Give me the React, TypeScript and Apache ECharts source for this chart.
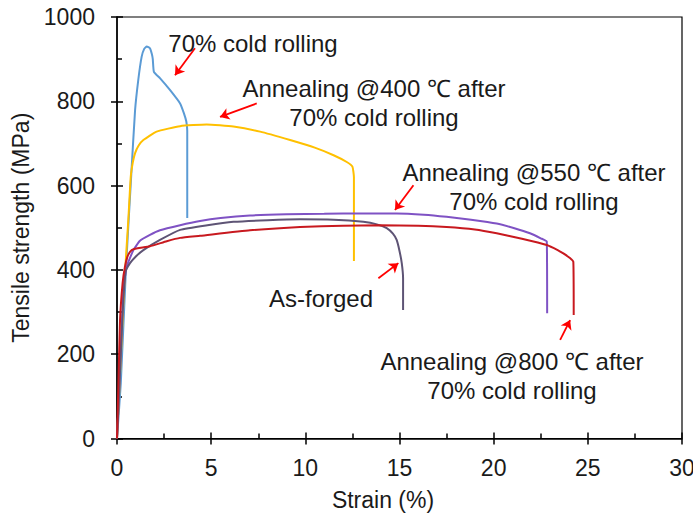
import React, { useEffect, useRef } from "react";
import * as echarts from "echarts";

// Strain (%) , Tensile strength (MPa)
const coldRolled70: number[][] = [
  [0, 0], [0.2, 130], [0.48, 407], [0.75, 620], [0.96, 779], [1.13, 851], [1.31, 906], [1.45, 925],
  [1.58, 930], [1.75, 926], [1.85, 912], [1.9, 900], [1.96, 870], [2.28, 855], [2.81, 827],
  [3.35, 795], [3.55, 772], [3.68, 752], [3.73, 730], [3.73, 523],
];
const annealed400: number[][] = [
  [0, 0], [0.15, 140], [0.37, 352], [0.6, 518], [0.73, 621], [0.84, 655], [0.96, 677], [1.15, 695],
  [1.4, 708], [2.1, 728], [3.35, 741], [4.76, 745], [6.18, 740], [7.6, 728], [9.19, 708],
  [10.5, 690], [11.5, 672], [12.2, 656], [12.5, 645], [12.58, 620], [12.58, 421],
];
const annealed550: number[][] = [
  [0, 0], [0.15, 150], [0.34, 352], [0.51, 407], [0.87, 447], [1.22, 469], [1.75, 483],
  [2.28, 494], [3.35, 506], [4.41, 516], [5.5, 523], [7.06, 529], [9.0, 532], [11, 533], [13, 534],
  [14.85, 534], [16.3, 531], [17.5, 526], [18.8, 519], [20.16, 510], [21.1, 499], [21.93, 487],
  [22.5, 475], [22.82, 467], [22.84, 297],
];
const asForged: number[][] = [
  [0, 0], [0.15, 150], [0.3, 300], [0.45, 395], [0.69, 416], [1.0, 432], [1.4, 447], [2.28, 471],
  [3.35, 495], [4.8, 506], [6.18, 514], [8, 518], [9.72, 520], [11.5, 519], [13.08, 514],
  [13.8, 508], [14.32, 499], [14.65, 486], [14.85, 471], [15.0, 445], [15.12, 416], [15.19, 380],
  [15.19, 305],
];
const annealed800: number[][] = [
  [0, 0], [0.07, 120], [0.16, 280], [0.3, 370], [0.42, 407], [0.55, 431], [0.69, 443], [0.87, 449],
  [1.75, 456], [2.64, 468], [3.35, 476], [4.41, 481], [7.06, 494], [9.72, 502], [12, 505], [13.97, 506],
  [16, 505], [17.5, 502], [19, 496], [20.16, 487], [21.5, 474], [22.82, 459], [23.4, 447],
  [23.7, 439], [24.05, 428], [24.23, 419], [24.25, 293],
];

// annotation arrows: [tail, head] in data coordinates
const arrows: number[][][] = [
  [[4.14, 926], [3.08, 862]],
  [[7.42, 795], [5.47, 763]],
  [[15.74, 601], [14.76, 542]],
  [[13.88, 380], [14.94, 416]],
  [[23.53, 234], [24.06, 281]],
];

const labels = [
  "70% cold rolling",
  "Annealing @400 \u2103 after\n70% cold rolling",
  "Annealing @550 \u2103 after\n70% cold rolling",
  "As-forged",
  "Annealing @800 \u2103 after\n70% cold rolling",
];

const FONT = "'Liberation Sans', Arial, sans-serif";
const TXT = "#1a1a1a";

export default function App() {
  const ref = useRef<HTMLDivElement>(null);
  useEffect(() => {
    document.body.style.margin = "0";
    const chart = echarts.init(ref.current!, null, { renderer: "svg" });
    const lineSeries = (name: string, data: number[][], color: string) => ({
      name,
      type: "line",
      data,
      showSymbol: false,
      symbol: "none",
      smooth: 0.15,
      lineStyle: { color, width: 2 },
      xAxisIndex: 0,
      yAxisIndex: 0,
    });
    const textPos = [
      [253, 43],
      [374, 103],
      [534, 187],
      [321, 298],
      [512, 376],
    ];
    chart.setOption({
      animation: false,
      backgroundColor: "#ffffff",
      grid: {
        left: 117,
        right: 11,
        top: 17,
        bottom: 80.5,
        outerBoundsMode: "none",
        containLabel: false,
        show: true,
        borderColor: "#000",
        borderWidth: 1.2,
        backgroundColor: "transparent",
      },
      xAxis: [
        {
          type: "value",
          min: 0,
          max: 30,
          interval: 5,
          position: "bottom",
          name: "Strain (%)",
          nameLocation: "middle",
          nameGap: 50,
          nameTextStyle: { fontFamily: FONT, fontSize: 23, color: TXT, padding: [0, 33, 0, 0] },
          axisLine: { show: true, onZero: false, lineStyle: { color: "#000", width: 1.5 } },
          axisTick: { show: true, inside: false, length: 6, lineStyle: { color: "#000", width: 1.5 } },
          axisLabel: { fontFamily: FONT, fontSize: 23, color: TXT, margin: 18, formatter: (v: number) => String(v) },
          splitLine: { show: false },
        },
        {
          type: "value",
          min: 0,
          max: 30,
          interval: 5,
          position: "bottom",
          axisLine: { show: false },
          axisTick: { show: true, inside: true, length: 6, lineStyle: { color: "#000", width: 1.5 } },
          minorTick: { show: true, splitNumber: 2, length: 5, lineStyle: { color: "#000", width: 1.5 } },
          axisLabel: { show: false },
          splitLine: { show: false },
        },
      ],
      yAxis: [
        {
          type: "value",
          min: 0,
          max: 1000,
          interval: 200,
          position: "left",
          name: "Tensile strength (MPa)",
          nameLocation: "middle",
          nameGap: 75,
          nameTextStyle: { fontFamily: FONT, fontSize: 23, color: TXT },
          axisLine: { show: true, onZero: false, lineStyle: { color: "#000", width: 1.5 } },
          axisTick: { show: true, inside: false, length: 6, lineStyle: { color: "#000", width: 1.5 } },
          axisLabel: { fontFamily: FONT, fontSize: 23, color: TXT, margin: 22, formatter: (v: number) => String(v) },
          splitLine: { show: false },
        },
        {
          type: "value",
          min: 0,
          max: 1000,
          interval: 200,
          position: "left",
          axisLine: { show: false },
          axisTick: { show: true, inside: true, length: 6, lineStyle: { color: "#000", width: 1.5 } },
          minorTick: { show: true, splitNumber: 2, length: 5, lineStyle: { color: "#000", width: 1.5 } },
          axisLabel: { show: false },
          splitLine: { show: false },
        },
      ],
      series: [
        lineSeries("70% cold rolling", coldRolled70, "#5b9bd5"),
        lineSeries("Annealing @400", annealed400, "#ffc000"),
        lineSeries("Annealing @550", annealed550, "#7f52c4"),
        lineSeries("As-forged", asForged, "#5e5475"),
        {
          ...lineSeries("Annealing @800", annealed800, "#c8191f"),
          markLine: {
            silent: true,
            symbol: ["none", "arrow"],
            symbolSize: 9,
            label: { show: false },
            lineStyle: { color: "#ff0000", width: 1.8, type: "solid" },
            emphasis: { disabled: true },
            data: arrows.map(([a, b]) => [{ coord: a }, { coord: b }]),
          },
        },
      ],
      graphic: labels.map((t, i) => ({
        type: "text",
        x: textPos[i][0],
        y: textPos[i][1],
        z: 100,
        style: {
          text: t,
          fontFamily: FONT,
          fontSize: 24,
          lineHeight: 29,
          fill: TXT,
          align: "center",
          verticalAlign: "middle",
        },
      })),
    });
    return () => chart.dispose();
  }, []);
  return <div ref={ref} style={{ width: 693, height: 519 }} />;
}
